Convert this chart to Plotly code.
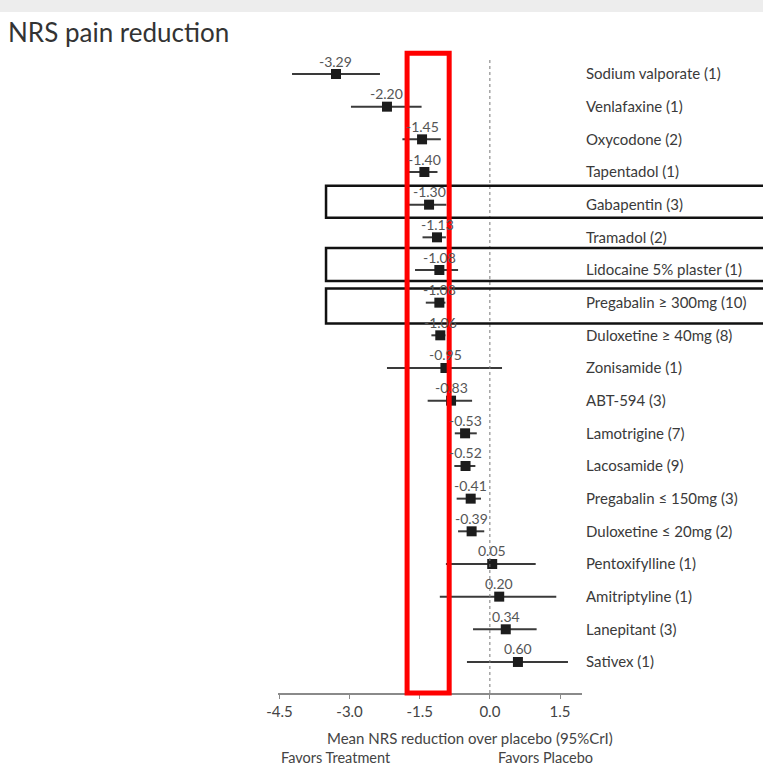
import plotly.graph_objects as go

title = "NRS pain reduction"
drugs = ["Sodium valporate (1)", "Venlafaxine (1)", "Oxycodone (2)", "Tapentadol (1)",
         "Gabapentin (3)", "Tramadol (2)", "Lidocaine 5% plaster (1)", "Pregabalin ≥ 300mg (10)",
         "Duloxetine ≥ 40mg (8)", "Zonisamide (1)", "ABT-594 (3)", "Lamotrigine (7)",
         "Lacosamide (9)", "Pregabalin ≤ 150mg (3)", "Duloxetine ≤ 20mg (2)", "Pentoxifylline (1)",
         "Amitriptyline (1)", "Lanepitant (3)", "Sativex (1)"]
mean = [-3.29, -2.20, -1.45, -1.40, -1.30, -1.13, -1.08, -1.08, -1.06, -0.95, -0.83, -0.53,
        -0.52, -0.41, -0.39, 0.05, 0.20, 0.34, 0.60]
lower = [-4.23, -2.97, -1.87, -1.73, -1.73, -1.44, -1.60, -1.37, -1.25, -2.20, -1.33, -0.75,
         -0.76, -0.71, -0.68, -0.94, -1.07, -0.36, -0.49]
upper = [-2.35, -1.46, -1.05, -1.12, -0.93, -0.94, -0.68, -0.95, -0.95, 0.26, -0.38, -0.28,
         -0.31, -0.19, -0.12, 0.98, 1.42, 1.00, 1.67]
tick_vals = [-4.5, -3.0, -1.5, 0.0, 1.5]
tick_text = ["-4.5", "-3.0", "-1.5", "0.0", "1.5"]
x_title = "Mean NRS reduction over placebo (95%CrI)"
favors = ["Favors Treatment", "Favors Placebo"]
highlight_rows = ["Gabapentin (3)", "Lidocaine 5% plaster (1)", "Pregabalin ≥ 300mg (10)"]
red_band = [-1.77, -0.87]

pos = list(range(1, len(drugs) + 1))
FONT = "Lato, 'Open Sans', sans-serif"

fig = go.Figure()
fig.add_trace(go.Scatter(
    x=mean, y=pos, mode="markers",
    marker=dict(symbol="square", size=10, color="#1c1c1c"),
    error_x=dict(type="data", symmetric=False,
                 array=[u - m for u, m in zip(upper, mean)],
                 arrayminus=[m - l for m, l in zip(mean, lower)],
                 color="#3a3a3a", thickness=2, width=0),
    cliponaxis=False, showlegend=False, hoverinfo="skip"))

annotations = []
for m, p in zip(mean, pos):
    annotations.append(dict(text=f"{m:.2f}", x=m, y=p, xref="x", yref="y", yshift=13,
                            showarrow=False, xanchor="center", yanchor="middle",
                            font=dict(size=14, color="#555555", family=FONT)))

shapes = []
# top grey band
shapes.append(dict(type="rect", xref="paper", yref="paper", x0=-1, x1=2, y0=1.059, y1=1.2,
                   fillcolor="#ededed", line=dict(width=0), layer="below"))
# zero line
shapes.append(dict(type="line", xref="x", yref="paper", x0=0, x1=0, y0=0, y1=0.985,
                   line=dict(color="#777777", width=1, dash="dot")))
# highlight boxes
box_off = {"Gabapentin (3)": (-0.58, 0.40), "Lidocaine 5% plaster (1)": (-0.67, 0.34),
           "Pregabalin ≥ 300mg (10)": (-0.43, 0.64)}
for name in highlight_rows:
    p = pos[drugs.index(name)]
    a, b = box_off[name]
    shapes.append(dict(type="rect", xref="paper", yref="y", x0=0.158, x1=1.7,
                       y0=p + a, y1=p + b, line=dict(color="#111111", width=2.5)))
# red band
shapes.append(dict(type="rect", xref="x", yref="paper", x0=red_band[0], x1=red_band[1],
                   y0=0, y1=0.995, line=dict(color="#ff0000", width=5), layer="above"))

annotations += [
    dict(text=title, xref="paper", yref="paper", x=-0.895, y=1.028, xanchor="left",
         yanchor="middle", showarrow=False, font=dict(size=26, color="#333333", family=FONT)),
    dict(text=x_title, xref="paper", yref="paper", x=0.632, y=-0.07, xanchor="center",
         yanchor="middle", showarrow=False, font=dict(size=15, color="#444444", family=FONT)),
    dict(text=favors[0], xref="paper", yref="paper", x=0.003, y=-0.1, xanchor="left",
         yanchor="middle", showarrow=False, font=dict(size=14.5, color="#444444", family=FONT)),
    dict(text=favors[1], xref="paper", yref="paper", x=0.717, y=-0.1, xanchor="left",
         yanchor="middle", showarrow=False, font=dict(size=14.5, color="#444444", family=FONT)),
]

fig.update_layout(
    width=763, height=769, margin=dict(l=278, r=181, t=50, b=76),
    paper_bgcolor="white", plot_bgcolor="white",
    shapes=shapes, annotations=annotations,
    xaxis=dict(range=[-4.53, 1.97], tickvals=tick_vals, ticktext=tick_text,
               showgrid=False, zeroline=False, showline=True, linecolor="#8a8a8a",
               linewidth=1.5, ticks="outside", ticklen=4, tickcolor="#8a8a8a",
               tickfont=dict(size=15, color="#444444", family=FONT), fixedrange=True),
    yaxis=dict(range=[19.95, 0.265], tickvals=pos, ticktext=drugs, side="right",
               showgrid=False, zeroline=False, showline=False, ticks="",
               ticklabelstandoff=3,
               tickfont=dict(size=15, color="#3a3a3a", family=FONT), fixedrange=True),
)

fig.write_html("out.html", config={"displayModeBar": False},
               post_script="document.body.style.margin='0';document.body.style.overflow='hidden';")
